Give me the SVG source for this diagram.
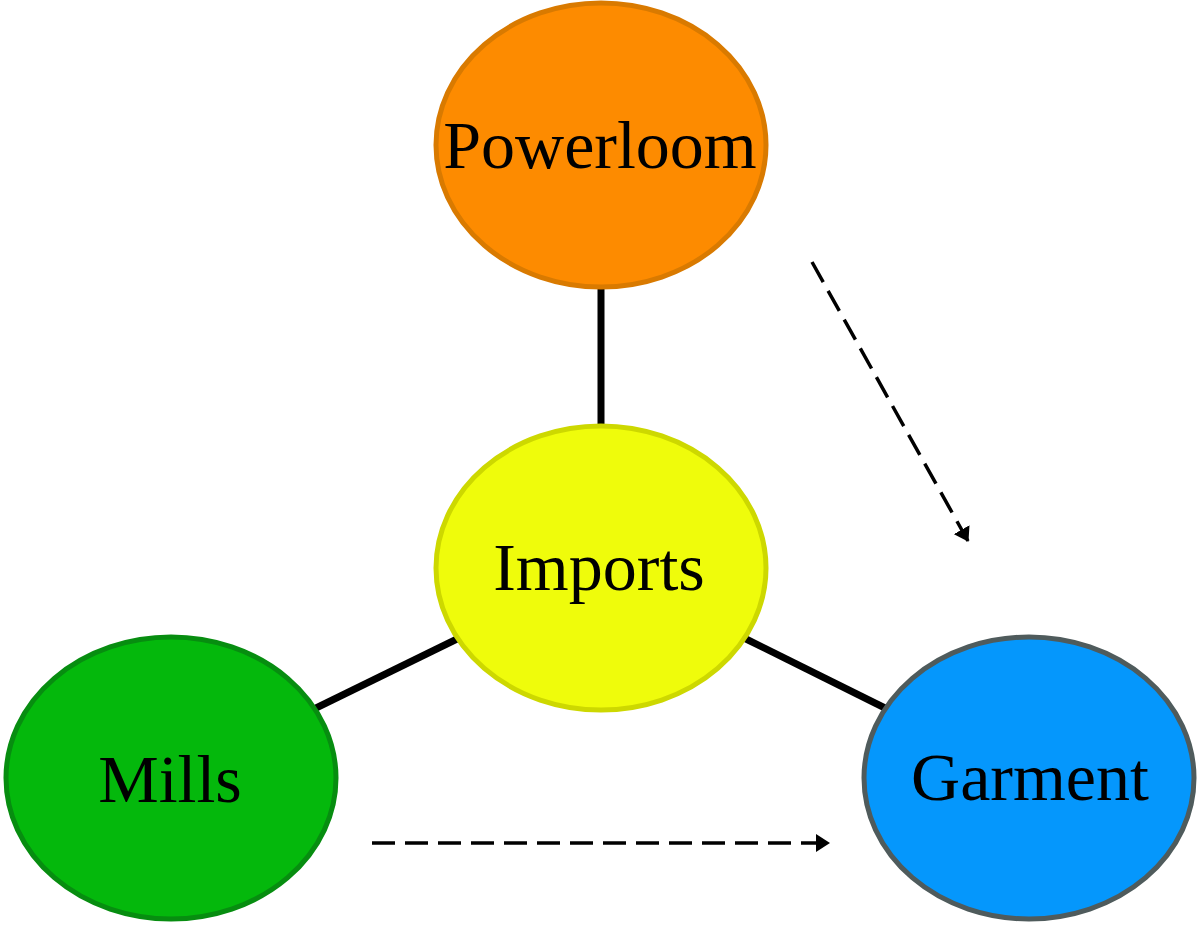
<svg xmlns="http://www.w3.org/2000/svg" width="1199" height="927" viewBox="0 0 1199 927">
<defs>
<style>
.lbl{font-family:"Liberation Serif","Times New Roman",serif;font-size:68px;fill:#000;text-anchor:middle}
.solid{stroke:#000;stroke-width:7;fill:none}
.dash{stroke:#000;stroke-width:3.5;fill:none;stroke-dasharray:23 10}
.node{stroke-width:5}
</style>
<marker id="ah" markerWidth="14" markerHeight="18" refX="13" refY="9" orient="auto" markerUnits="userSpaceOnUse">
<path d="M0,0 L14,9 L0,18 Z" fill="#000"/>
</marker>
</defs>
<rect width="1199" height="927" fill="#fff"/>
<g id="connectors">
<line class="solid" x1="601" y1="288" x2="601" y2="426"/>
<line class="solid" x1="316" y1="708" x2="457" y2="639"/>
<line class="solid" x1="744" y1="638" x2="885" y2="708"/>
<line class="dash" x1="812" y1="262" x2="968" y2="541" marker-end="url(#ah)"/>
<line class="dash" x1="372" y1="843" x2="829" y2="843" marker-end="url(#ah)"/>
</g>
<g id="powerloom">
<ellipse class="node" cx="601" cy="145" rx="165" ry="142" fill="#fd8b00" stroke="#d97a00"/>
<text class="lbl" x="600" y="168">Powerloom</text>
</g>
<g id="imports">
<ellipse class="node" cx="601" cy="568" rx="165" ry="142" fill="#effc0b" stroke="#cdd800"/>
<text class="lbl" x="599" y="590">Imports</text>
</g>
<g id="mills">
<ellipse class="node" cx="171" cy="778" rx="165" ry="141" fill="#04b80c" stroke="#078d10"/>
<text class="lbl" x="170" y="802">Mills</text>
</g>
<g id="garment">
<ellipse class="node" cx="1029" cy="778" rx="165" ry="141" fill="#0597fc" stroke="#4f5b5c"/>
<text class="lbl" x="1030" y="800">Garment</text>
</g>
</svg>
